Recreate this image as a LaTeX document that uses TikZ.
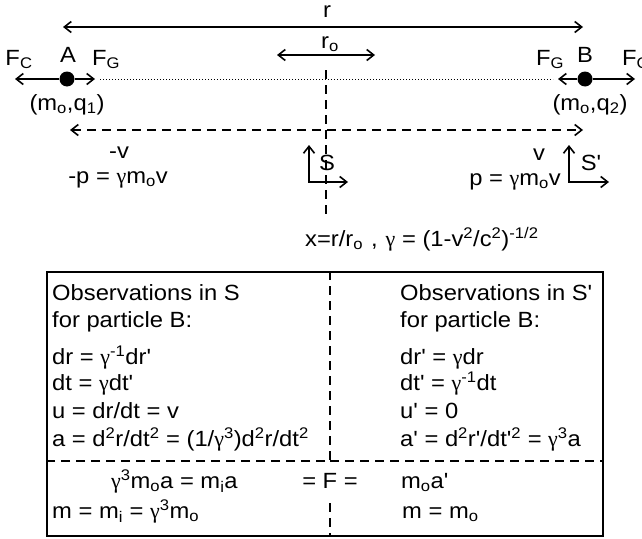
\documentclass[tikz,border=0pt]{standalone}
\usepackage{fontspec}
\newfontfamily\arial{Liberation Sans}[FakeStretch=1.08]
\newfontfamily\greekfont{Liberation Serif}
\newcommand{\gam}{{\greekfont γ}}
\newcommand{\lowtxt}[1]{\textsubscript{#1}}
\newcommand{\hightxt}[1]{\textsuperscript{#1}}
\usetikzlibrary{arrows.meta}

\begin{document}
\begin{tikzpicture}[
    x=1pt, y=-1pt,
    every node/.style={inner sep=0pt, font=\arial\fontsize{22}{26}\selectfont},
    arrow/.style={line width=1.6pt, -{Straight Barb[length=7pt,width=11pt]}},
    biarrow/.style={line width=1.6pt, {Straight Barb[length=7pt,width=11pt]}-{Straight Barb[length=7pt,width=11pt]}},
    dasharrow/.style={biarrow, dash pattern=on 9pt off 6pt},
    dashline/.style={line width=1.6pt, dash pattern=on 9pt off 6pt},
    dotline/.style={line width=1pt, dash pattern=on 1pt off 2pt},
    particle/.style={circle, fill=black, minimum size=15pt},
    lbl/.style={anchor=base},
    obs/.style={anchor=base west}
]
\useasboundingbox (0,0) rectangle (642,538);

% Distances r and r_o
\coordinate (rL) at (63,27);
\coordinate (rR) at (583,27);
\draw[biarrow] (rL) -- (rR);
\node[lbl] (rlabel) at (327,17) {r};
\coordinate (roL) at (277,55);
\coordinate (roR) at (375,55);
\draw[biarrow] (roL) -- (roR);
\node[lbl] (rolabel) at (330,48) {r\lowtxt{o}};

% Particles A and B
\node[particle] (A) at (67,79) {};
\node[particle] (B) at (585,79) {};
\coordinate (AFc) at (15,79);
\coordinate (AFg) at (95,79);
\coordinate (BFg) at (558,79);
\coordinate (BFc) at (635,79);
\coordinate (dotL) at (100,79);
\coordinate (dotR) at (553,79);
\draw[arrow] (A) -- (AFc);
\draw[arrow] (A) -- (AFg);
\draw[arrow] (B) -- (BFg);
\draw[arrow] (B) -- (BFc);
\draw[dotline] (dotL) -- (dotR);

\node[lbl] (Alabel) at (68,62) {A};
\node[lbl] (AFclabel) at (19,65) {F\lowtxt{C}};
\node[lbl] (AFglabel) at (106,65) {F\lowtxt{G}};
\node[lbl] (Blabel) at (585,62) {B};
\node[lbl] (BFglabel) at (550,65) {F\lowtxt{G}};
\node[obs] (BFclabel) at (622,65) {F\lowtxt{C}};
\node[lbl] (Amass) at (67,110) {(m\lowtxt{o},q\lowtxt{1})};
\node[lbl] (Bmass) at (590,110) {(m\lowtxt{o},q\lowtxt{2})};

% Relative velocity and middle axis
\coordinate (vL) at (70,130);
\coordinate (vR) at (583,130);
\draw[dasharrow] (vL) -- (vR);
\coordinate (axTop) at (326,70);
\coordinate (axBot) at (326,215);
\draw[dashline] (axTop) -- (axBot);

\node[lbl] (vA) at (119,158) {-v};
\node[lbl] (pA) at (118,183) {-p = \gam m\lowtxt{o}v};
\node[lbl] (vB) at (539,160) {v};
\node[lbl] (pB) at (515,185) {p = \gam m\lowtxt{o}v};

% Frames S and S'
\coordinate (S0) at (309,182);
\coordinate (Sy) at (309,145);
\coordinate (Sx) at (348,182);
\draw[biarrow] (Sy) -- (S0) -- (Sx);
\node[lbl] (Slabel) at (327,170) {S};
\coordinate (Sp0) at (569,182);
\coordinate (Spy) at (569,145);
\coordinate (Spx) at (609,182);
\draw[biarrow] (Spy) -- (Sp0) -- (Spx);
\node[lbl] (Splabel) at (591,170) {S'};

\node[obs] (defs) at (305,246) {x=r/r\lowtxt{o}\hspace{8pt},\hspace{8pt}\gam{} = (1-v\hightxt{2}/c\hightxt{2})\hightxt{-1/2}};

% Observation table
\node[draw, line width=1.5pt, minimum width=556pt, minimum height=264pt, anchor=north west] (box) at (46,271) {};
\coordinate (midTop) at (330,271);
\coordinate (midCorner) at (330,461);
\coordinate (boxMidL) at (46,461);
\coordinate (boxMidR) at (602,461);
\coordinate (midBotA) at (330,503);
\coordinate (midBotB) at (330,535);
\draw[dashline] (midTop) -- (midCorner) -- (boxMidL);
\draw[dashline] (midCorner) -- (boxMidR);
\draw[dashline] (midBotA) -- (midBotB);

\node[obs] (obsS) at (52,300) {Observations in S};
\node[obs] (forS) at (52,327) {for particle B:};
\node[obs] (drS) at (52,364) {dr = \gam\hightxt{-1}dr'};
\node[obs] (dtS) at (52,390) {dt = \gam dt'};
\node[obs] (uS) at (52,418) {u = dr/dt = v};
\node[obs] (aS) at (52,446) {a = d\hightxt{2}r/dt\hightxt{2} = (1/\gam\hightxt{3})d\hightxt{2}r/dt\hightxt{2}};
\node[obs] (FS) at (111,488) {\gam\hightxt{3}m\lowtxt{o}a = m\lowtxt{i}a};
\node[lbl] (Feq) at (330,488) {= F =};
\node[obs] (mS) at (52,518) {m = m\lowtxt{i} = \gam\hightxt{3}m\lowtxt{o}};

\node[obs] (obsSp) at (400,300) {Observations in S'};
\node[obs] (forSp) at (400,327) {for particle B:};
\node[obs] (drSp) at (400,364) {dr' = \gam dr};
\node[obs] (dtSp) at (400,390) {dt' = \gam\hightxt{-1}dt};
\node[obs] (uSp) at (400,418) {u' = 0};
\node[obs] (aSp) at (400,446) {a' = d\hightxt{2}r'/dt'\hightxt{2} = \gam\hightxt{3}a};
\node[obs] (FSp) at (401,488) {m\lowtxt{o}a'};
\node[obs] (mSp) at (402,518) {m = m\lowtxt{o}};

\end{tikzpicture}
\end{document}
